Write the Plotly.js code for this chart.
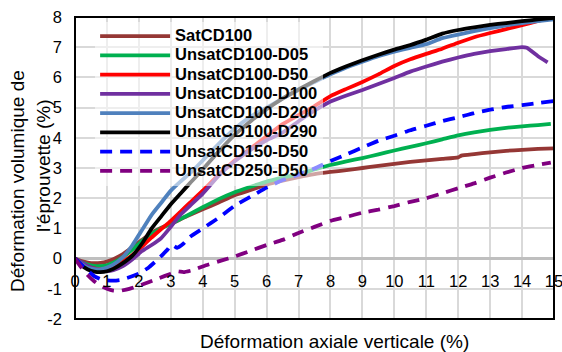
<!DOCTYPE html>
<html>
<head>
<meta charset="utf-8">
<script src="https://cdn.plot.ly/plotly-3.0.1.min.js"></script>
<style>
html,body{margin:0;padding:0;background:#fff;}
#chart{width:562px;height:352px;}
</style>
</head>
<body>
<div id="chart"></div>
<script>
// ---- Data ----
const seriesNames = ["SatCD100","UnsatCD100-D05","UnsatCD100-D50","UnsatCD100-D100","UnsatCD100-D200","UnsatCD100-D290","UnsatCD150-D50","UnsatCD250-D50"];

const satCD100_x = [0,0.2,0.4,0.6,0.8,1.0,1.2,1.5,1.8,2.1,2.4,2.7,3.0,3.5,4.0,4.5,5.0,5.5,6.0,6.5,7,7.5,8,8.5,9,9.5,10,10.5,11,11.5,12,12.1,12.5,13,13.5,14,14.5,15];
const satCD100_y = [0,-0.08,-0.13,-0.15,-0.14,-0.1,-0.02,0.15,0.38,0.62,0.85,1.02,1.15,1.4,1.63,1.86,2.1,2.27,2.45,2.58,2.7,2.8,2.87,2.93,3.0,3.07,3.14,3.2,3.25,3.3,3.35,3.41,3.46,3.52,3.57,3.6,3.63,3.65];

const d05_x = [0,0.2,0.4,0.6,0.8,1.0,1.2,1.5,1.8,2.1,2.4,2.7,3.0,3.5,4.0,4.5,5.0,5.5,6.0,6.5,7,7.5,8,8.5,9,9.5,10,10.5,11,11.5,12,12.5,13,13.5,14,14.5,14.9];
const d05_y = [0,-0.12,-0.2,-0.24,-0.25,-0.22,-0.14,0.05,0.3,0.58,0.82,1.0,1.15,1.42,1.7,1.97,2.2,2.38,2.55,2.68,2.8,2.95,3.1,3.22,3.33,3.45,3.58,3.7,3.82,3.95,4.08,4.18,4.26,4.33,4.38,4.42,4.46];

const d50_x = [0,0.2,0.4,0.6,0.8,1.0,1.2,1.5,1.8,2.1,2.4,2.7,3.0,3.3,3.6,4.0,4.5,5.0,5.5,6.0,6.5,7,7.5,8,8.5,9,9.5,10,10.5,11,11.5,12,12.5,13,13.5,14,14.5,15];
const d50_y = [0,-0.15,-0.26,-0.32,-0.35,-0.33,-0.27,-0.1,0.12,0.4,0.7,0.98,1.25,1.55,1.85,2.25,2.78,3.25,3.65,4.05,4.45,4.75,5.05,5.38,5.62,5.85,6.1,6.38,6.6,6.78,6.95,7.15,7.33,7.47,7.6,7.73,7.87,8.0];

const d100_x = [0,0.2,0.4,0.6,0.8,1.0,1.2,1.5,1.8,2.1,2.4,2.7,3.0,3.3,3.6,4.0,4.5,5.0,5.5,6.0,6.5,7,7.5,8,8.5,9,9.5,10,10.5,11,11.5,12,12.5,13,13.5,14,14.15,14.5,14.8];
const d100_y = [0,-0.12,-0.24,-0.33,-0.39,-0.41,-0.38,-0.25,-0.02,0.25,0.45,0.68,1.05,1.45,1.75,2.15,2.75,3.22,3.6,3.92,4.17,4.55,4.9,5.2,5.4,5.58,5.78,5.98,6.19,6.36,6.52,6.66,6.78,6.87,6.94,7.0,6.98,6.7,6.5];

const d200_x = [0,0.2,0.4,0.6,0.8,1.0,1.2,1.5,1.8,2.1,2.4,2.7,3.0,3.3,3.6,4.0,4.5,5.0,5.5,6.0,6.5,7,7.5,8,8.5,9,9.5,10,10.5,11,11.5,12,12.5,13,13.5,14,14.5,15];
const d200_y = [0,-0.18,-0.3,-0.35,-0.35,-0.3,-0.2,0.05,0.45,0.95,1.45,1.85,2.25,2.55,2.82,3.25,3.8,4.3,4.7,5.0,5.3,5.58,5.85,6.1,6.33,6.52,6.7,6.85,6.98,7.1,7.3,7.42,7.53,7.63,7.72,7.8,7.86,7.92];

const d290_x = [0,0.2,0.4,0.6,0.8,1.0,1.2,1.5,1.8,2.1,2.4,2.7,3.0,3.3,3.6,4.0,4.5,5.0,5.5,6.0,6.5,7,7.5,8,8.5,9,9.5,10,10.5,11,11.5,12,12.5,13,13.5,14,14.5,15];
const d290_y = [0,-0.22,-0.36,-0.43,-0.45,-0.42,-0.34,-0.15,0.1,0.5,1.0,1.4,1.8,2.15,2.5,2.95,3.55,4.1,4.55,4.95,5.3,5.6,5.88,6.15,6.37,6.57,6.75,6.92,7.07,7.25,7.45,7.57,7.66,7.74,7.8,7.86,7.92,7.97];

const c150_x = [0,0.2,0.4,0.6,0.8,1.0,1.2,1.4,1.7,2.0,2.3,2.6,2.9,3.0,3.1,3.2,3.4,3.6,4.0,4.5,5.0,5.5,6.0,6.5,7,7.5,8,8.5,9,9.5,10,10.5,11,11.5,12,12.5,13,13.5,14,14.5,15];
const c150_y = [0,-0.2,-0.4,-0.58,-0.68,-0.72,-0.73,-0.71,-0.62,-0.5,-0.3,-0.02,0.3,0.45,0.42,0.36,0.5,0.72,1.0,1.35,1.75,2.05,2.35,2.6,2.78,2.98,3.23,3.45,3.68,3.9,4.07,4.25,4.4,4.55,4.68,4.82,4.93,5.02,5.08,5.15,5.22];

const c250_x = [0,0.2,0.4,0.6,0.8,1.0,1.2,1.4,1.7,2.0,2.3,2.6,3.0,3.2,3.4,3.7,4.1,4.6,5.0,5.5,6.0,6.5,7,7.5,8,8.5,9,9.5,10,10.5,11,11.5,12,12.5,13,13.5,14,14.5,14.9];
const c250_y = [0,-0.3,-0.55,-0.75,-0.9,-1.0,-1.06,-1.07,-1.0,-0.9,-0.78,-0.66,-0.5,-0.42,-0.45,-0.38,-0.22,-0.06,0.07,0.26,0.45,0.62,0.85,1.05,1.25,1.38,1.52,1.62,1.74,1.88,2.0,2.16,2.33,2.49,2.68,2.85,3.0,3.1,3.18];

const xTickVals = [0,1,2,3,4,5,6,7,8,9,10,11,12,13,14,15];
const yTickVals = [-2,-1,0,1,2,3,4,5,6,7,8];

// ---- Styles ----
const colors = ["#953735","#00b050","#ff0000","#7030a0","#4f81bd","#000000","#0000ff","#800080"];
const dashes = ["solid","solid","solid","solid","solid","solid","12px,8px","12px,8px"];
const xs = [satCD100_x,d05_x,d50_x,d100_x,d200_x,d290_x,c150_x,c250_x];
const ys = [satCD100_y,d05_y,d50_y,d100_y,d200_y,d290_y,c150_y,c250_y];

const FONT = "Liberation Sans, Arial, sans-serif";

const traces = seriesNames.map((n,i)=>({
  type:"scatter", mode:"lines",
  x: xs[i], y: ys[i],
  name: '<span style="font-size:16.5px;font-weight:bold">'+n+'</span>',
  line:{color:colors[i], width:3.8, dash:dashes[i], shape:"spline", smoothing:0.4},
  hoverinfo:"skip"
}));

const layout = {
  width:562, height:352,
  margin:{l:75, r:8, t:17, b:33, pad:0},
  paper_bgcolor:"#ffffff", plot_bgcolor:"#ffffff",
  font:{family:FONT, color:"#000"},
  showlegend:true,
  legend:{
    x:0.042, y:0.985, xanchor:"left", yanchor:"top",
    bgcolor:"rgba(255,255,255,0.55)", borderwidth:0,
    font:{family:FONT, size:12.5, color:"#000"},
    itemwidth:70, tracegroupgap:0
  },
  xaxis:{
    range:[0,15], tickvals:xTickVals, ticktext:xTickVals.map(String),
    showgrid:true, gridcolor:"#d9d9d9", gridwidth:2,
    zeroline:false, showline:false, ticks:"",
    anchor:"free", position:0.2,
    ticklabelstandoff:11, ticklabeloverflow:"allow",
    tickfont:{family:FONT, size:16.5, color:"#000"},
    fixedrange:true
  },
  yaxis:{
    range:[-2,8], tickvals:yTickVals, ticktext:yTickVals.map(String),
    showgrid:true, gridcolor:"#d9d9d9", gridwidth:2,
    zeroline:true, zerolinecolor:"#bfbfbf", zerolinewidth:2.5,
    showline:false, ticks:"", ticklabelstandoff:12,
    tickfont:{family:FONT, size:16.5, color:"#000"},
    fixedrange:true
  },
  shapes:[
    {type:"rect", xref:"paper", yref:"paper", x0:0, x1:1, y0:0, y1:1,
     line:{color:"#000", width:2}, layer:"above"}
  ],
  annotations:[
    {text:"Déformation axiale verticale (%)", xref:"paper", yref:"paper",
     x:(334-75)/479, y:-0.073, xanchor:"center", yanchor:"middle", showarrow:false,
     font:{family:FONT, size:19, color:"#000"}},
    {text:"Déformation volumique de", xref:"paper", yref:"paper",
     x:(17-75)/479, y:(319-181)/302, xanchor:"center", yanchor:"middle", showarrow:false,
     textangle:-90,
     font:{family:FONT, size:19, color:"#000"}},
    {text:"l'éprouvette (%)", xref:"paper", yref:"paper",
     x:(43-75)/479, y:(319-166)/302, xanchor:"center", yanchor:"middle", showarrow:false,
     textangle:-90,
     font:{family:FONT, size:19, color:"#000"}}
  ]
};

Plotly.newPlot("chart", traces, layout, {displayModeBar:false, staticPlot:true});
</script>
</body>
</html>
